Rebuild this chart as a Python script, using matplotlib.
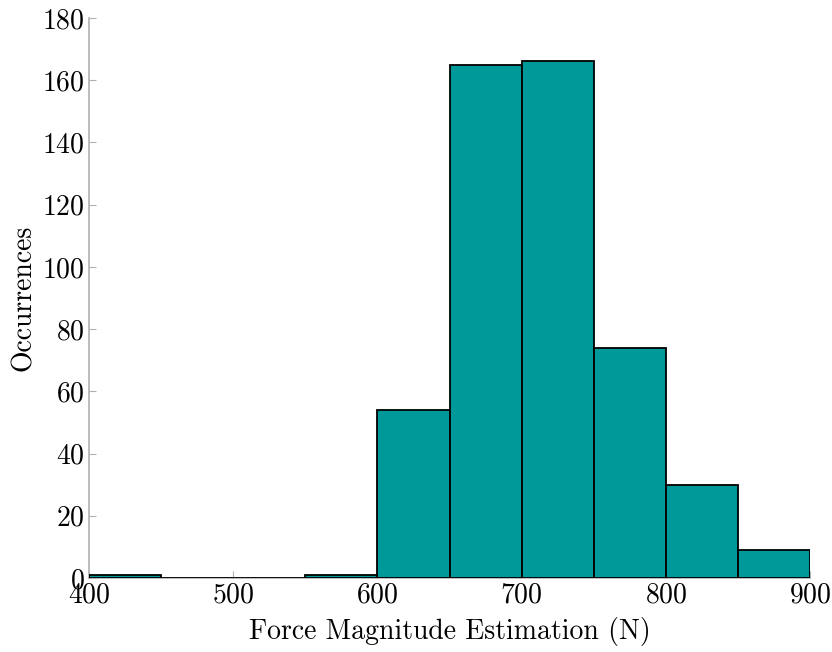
import numpy as np
import matplotlib
matplotlib.use('Agg')
import matplotlib.pyplot as plt

# histogram counts (bin width 50 N)
bin_edges = [400, 450, 500, 550, 600, 650, 700, 750, 800, 850, 900]
counts = [1, 0, 0, 1, 54, 165, 166, 74, 30, 9]

plt.rcParams['font.family'] = 'serif'
plt.rcParams['font.serif'] = ['cmr10']
plt.rcParams['mathtext.fontset'] = 'cm'
plt.rcParams['axes.formatter.use_mathtext'] = True

fig = plt.figure(figsize=(8.32, 6.52), dpi=100)
ax = fig.add_axes([0.107, 0.1135, 0.8666, 0.859])

edges = np.array(bin_edges)
ax.bar(edges[:-1], counts, width=np.diff(edges), align='edge',
       color='#009999', edgecolor='black', linewidth=1.3, zorder=3)

ax.set_xlim(400, 900)
ax.set_ylim(0, 180)
ax.set_xticks([400, 500, 600, 700, 800, 900])
ax.set_yticks(range(0, 181, 20))

for s in ['top', 'right']:
    ax.spines[s].set_visible(False)
for s in ['left', 'bottom']:
    ax.spines[s].set_color('#b0b0b0')
    ax.spines[s].set_linewidth(1.2)

ax.tick_params(direction='in', color='#b0b0b0', labelsize=20, length=5, pad=3)
ax.set_xlabel('Force Magnitude Estimation (N)', fontsize=20, labelpad=6)
ax.set_ylabel('Occurrences', fontsize=20, labelpad=4)

fig.savefig('out.png', dpi=100)
